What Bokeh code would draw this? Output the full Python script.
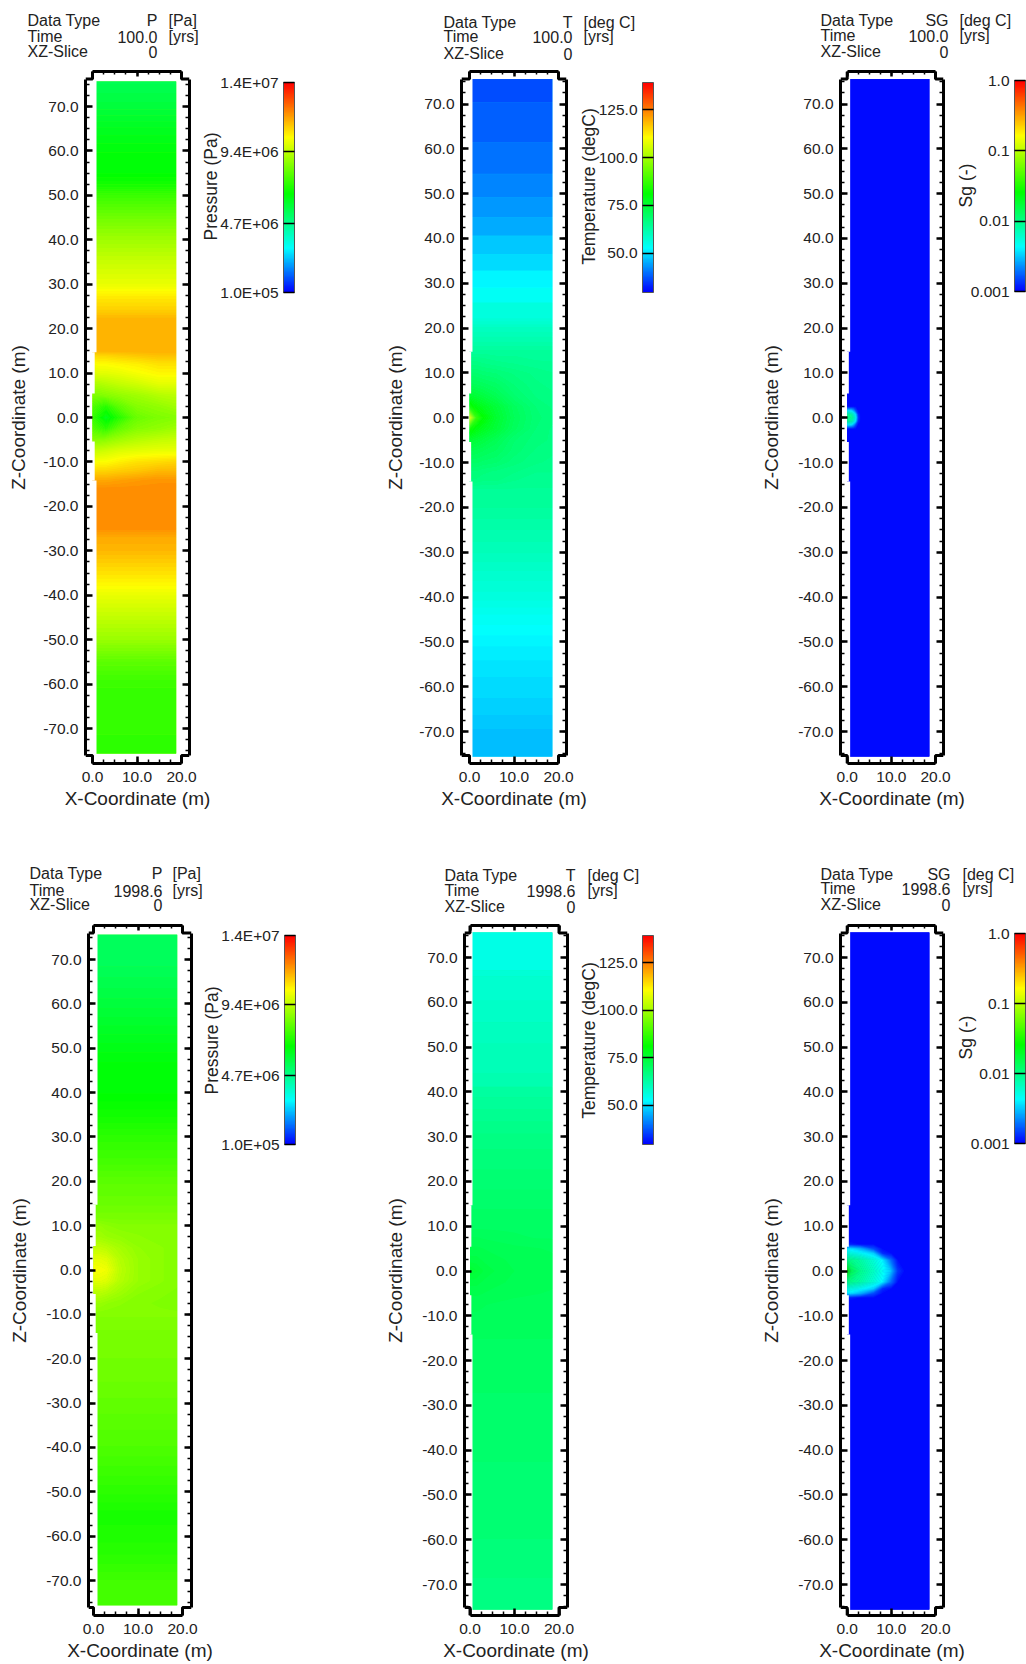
import math
import numpy as np
from bokeh.core.properties import value
from bokeh.embed import file_html
from bokeh.layouts import column, row
from bokeh.models import (ColorBar, FixedTicker, LinearAxis, LinearColorMapper,
                          LogColorMapper, Range1d)
from bokeh.plotting import figure
from bokeh.resources import INLINE

# ---------- axis ticks ----------
z_major = [-70, -60, -50, -40, -30, -20, -10, 0, 10, 20, 30, 40, 50, 60, 70]
z_minor = [v * 2.5 for v in range(-30, 31)]
x_major = [0, 10, 20]
x_minor = [0, 2.5, 5, 7.5, 10, 12.5, 15, 17.5, 20]

# ---------- shared table positions near the well ----------
near_z = [14, 12, 10, 7.5, 5, 2.5, 0, -2.5, -5, -7.5, -10, -12, -14]
near_x = [0, 1.5, 3, 6, 10, 15, 19]

# ---------- pressure at 100 yr (1e6 Pa) ----------
p100_far_z = [75.6, 70, 65, 60, 55, 52, 50, 45, 40, 35, 30, 27, 24, 22, 18, 15,
              -16, -22, -25, -27, -30, -35, -38, -40, -45, -50, -55, -60, -65, -70, -75.6]
p100_far = [5.5, 5.8, 6.2, 6.5, 6.6, 7.0, 7.5, 8.3, 9.0, 9.6, 10.1, 10.7, 11.1, 11.5, 11.5, 11.5,
            12.0, 12.0, 12.0, 11.6, 11.4, 10.8, 10.4, 10.1, 9.5, 8.9, 8.0, 7.5, 7.4, 7.4, 7.3]
p100_near = [
    [10.9, 11.0, 11.0, 11.1, 11.2, 11.3, 11.3],
    [10.3, 10.4, 10.4, 10.5, 10.6, 10.8, 10.8],
    [9.9, 10.0, 10.0, 10.1, 10.3, 10.5, 10.5],
    [9.2, 9.2, 9.3, 9.5, 9.7, 10.0, 10.0],
    [8.5, 8.5, 8.6, 8.8, 9.0, 9.3, 9.4],
    [7.8, 7.5, 7.2, 8.0, 8.6, 8.8, 9.0],
    [7.4, 6.9, 6.2, 7.2, 8.2, 8.5, 8.6],
    [7.9, 7.6, 7.3, 8.1, 8.6, 8.8, 9.0],
    [8.6, 8.6, 8.7, 9.0, 9.3, 9.5, 9.6],
    [9.6, 9.6, 9.7, 9.9, 10.0, 10.1, 10.1],
    [10.3, 10.4, 10.4, 10.6, 10.8, 10.9, 11.0],
    [10.9, 11.0, 11.0, 11.1, 11.2, 11.4, 11.4],
    [11.6, 11.6, 11.6, 11.7, 11.8, 11.9, 11.9],
]

# ---------- temperature at 100 yr (deg C) ----------
t100_far_z = [75.6, 70.5, 70.3, 61.6, 61.4, 54.5, 54.3, 49.3, 49.1, 44.8, 44.6, 40.7, 40.5, 36.6,
              36.4, 32.9, 32.7, 29.1, 28.9, 25.8, 25.6, 22.5, 20, 17, 15,
              -16, -20, -25, -30, -35, -40, -44, -48, -52, -58, -65, -70, -75.6]
t100_far = [36.3, 36.3, 38.1, 38.1, 40, 40, 41.8, 41.8, 43.6, 43.6, 45.4, 45.4, 47.6, 47.6,
            49.9, 49.9, 52.2, 52.2, 53.7, 53.7, 56.4, 56.4, 59.7, 62, 63.8,
            64.5, 63.8, 62, 60.4, 58.2, 56.4, 54.2, 52.7, 51.3, 49.9, 48.6, 47.2, 46.7]
t100_near = [
    [65, 65, 65, 64.5, 64.5, 64, 64],
    [67, 67, 66.5, 66, 65.5, 65, 64.8],
    [69, 69, 68.5, 68, 67, 66, 65.5],
    [72, 71.5, 71, 70, 68, 66.5, 66],
    [76, 75, 74, 72, 69, 67, 66.5],
    [84, 80, 78, 75, 71, 68, 67],
    [111, 88, 81.7, 76, 71.6, 68.3, 67.5],
    [84, 80, 78, 75, 71, 68, 67],
    [76, 75, 74, 72, 69, 67.5, 67],
    [72.5, 72, 71.5, 70.5, 68.5, 67, 66.5],
    [70, 70, 69.5, 69, 67.5, 66.5, 66],
    [68, 68, 67.5, 67, 66.5, 65.5, 65.5],
    [67, 67, 66.5, 66.5, 65.5, 65, 65],
]

# ---------- gas saturation at 100 yr (-) ----------
s100_far_z = [75.6, 3, -3, -75.6]
s100_far = [0.0011, 0.0011, 0.0011, 0.0011]
s100_near_z = [2.5, 1.5, 0.8, 0, -0.8, -1.5, -2.5]
s100_near_x = [0, 1, 1.5, 2, 2.5, 3, 19]
s100_near = [
    [0.0011, 0.0011, 0.0011, 0.0011, 0.0011, 0.0011, 0.0011],
    [0.0050, 0.0045, 0.0030, 0.0016, 0.0011, 0.0011, 0.0011],
    [0.0095, 0.0080, 0.0060, 0.0035, 0.0013, 0.0011, 0.0011],
    [0.0105, 0.0095, 0.0075, 0.0045, 0.0015, 0.0011, 0.0011],
    [0.0095, 0.0080, 0.0060, 0.0035, 0.0013, 0.0011, 0.0011],
    [0.0050, 0.0045, 0.0030, 0.0016, 0.0011, 0.0011, 0.0011],
    [0.0011, 0.0011, 0.0011, 0.0011, 0.0011, 0.0011, 0.0011],
]

# ---------- pressure at 1998.6 yr (1e6 Pa) ----------
p1998_far_z = [75.6, 70, 60, 50, 45, 40, 35, 30, 25, 20, 15,
               -18, -22, -25, -30, -40, -50, -55, -60, -65, -70, -75.6]
p1998_far = [5.35, 5.35, 5.8, 6.35, 6.6, 6.6, 6.9, 7.3, 7.6, 8.0, 8.2,
             8.4, 8.3, 8.25, 8.1, 7.8, 7.3, 7.0, 7.1, 7.3, 7.6, 7.7]
p1998_near = [
    [8.3, 8.3, 8.3, 8.3, 8.3, 8.3, 8.3],
    [8.4, 8.4, 8.4, 8.4, 8.4, 8.4, 8.4],
    [8.8, 8.8, 8.7, 8.6, 8.6, 8.6, 8.6],
    [9.0, 9.0, 8.9, 8.8, 8.7, 8.6, 8.6],
    [9.5, 9.5, 9.4, 9.1, 8.8, 8.7, 8.6],
    [10.0, 10.0, 9.9, 9.3, 8.9, 8.7, 8.6],
    [10.4, 10.3, 10.2, 9.4, 8.9, 8.7, 8.6],
    [10.0, 10.0, 9.9, 9.3, 8.9, 8.7, 8.6],
    [9.4, 9.4, 9.3, 9.0, 8.7, 8.6, 8.55],
    [8.9, 8.9, 8.8, 8.7, 8.6, 8.55, 8.5],
    [8.6, 8.6, 8.6, 8.6, 8.6, 8.6, 8.6],
    [8.5, 8.5, 8.5, 8.5, 8.5, 8.5, 8.5],
    [8.45, 8.45, 8.45, 8.45, 8.45, 8.45, 8.45],
]

# ---------- temperature at 1998.6 yr (deg C) ----------
t1998_far_z = [75.6, 67.2, 67, 60, 50, 41.2, 41, 30, 28, 20, 15,
               -16, -20, -30, -40, -50, -60, -70, -75.6]
t1998_far = [55.3, 55.3, 57.5, 58.6, 60.4, 61.5, 63, 66.5, 67, 68.5, 69.5,
             70.5, 70.3, 69.5, 69, 68.5, 68, 67, 66.5]
t1998_near = [
    [69.7, 69.7, 69.7, 69.7, 69.7, 69.7, 69.7],
    [70, 70, 70, 70, 70, 70, 70],
    [70.3, 70.3, 70.3, 70.3, 70.3, 70.1, 70.1],
    [71.5, 71.5, 71.3, 71.1, 70.8, 70.5, 70.5],
    [72.5, 72.5, 72.3, 72, 71.7, 71.5, 71.3],
    [73.5, 73.5, 73, 72.5, 72.1, 71.7, 71.7],
    [76, 75, 74, 73, 72.3, 71.8, 71.8],
    [73.5, 73.5, 73, 72.5, 72.1, 71.7, 71.7],
    [72.5, 72.5, 72.3, 72, 71.7, 71.5, 71.3],
    [71.7, 71.7, 71.5, 71.3, 71.1, 70.9, 70.9],
    [71.3, 71.3, 71.3, 71.3, 71.3, 71.3, 71.3],
    [71, 71, 71, 71, 71, 71, 71],
    [70.7, 70.7, 70.7, 70.7, 70.7, 70.7, 70.7],
]

# ---------- gas saturation at 1998.6 yr (-) ----------
s1998_far_z = [75.6, 7, -7, -75.6]
s1998_far = [0.0011, 0.0011, 0.0011, 0.0011]
s1998_near_z = [6.5, 6, 5, 4, 2.5, 0, -2.5, -4, -5, -6, -6.5]
s1998_near_x = [0, 1, 3, 6, 8, 10, 11.5, 13, 19]
s1998_near = [
    [0.0011, 0.0011, 0.0011, 0.0011, 0.0011, 0.0011, 0.0011, 0.0011, 0.0011],
    [0.0012, 0.0012, 0.0011, 0.0011, 0.0011, 0.0011, 0.0011, 0.0011, 0.0011],
    [0.0040, 0.0038, 0.0030, 0.0016, 0.0011, 0.0011, 0.0011, 0.0011, 0.0011],
    [0.0058, 0.0055, 0.0047, 0.0034, 0.0013, 0.0011, 0.0011, 0.0011, 0.0011],
    [0.0105, 0.0098, 0.0083, 0.0058, 0.0042, 0.0019, 0.0011, 0.0011, 0.0011],
    [0.0316, 0.0147, 0.0098, 0.0067, 0.0048, 0.0031, 0.0014, 0.0011, 0.0011],
    [0.0105, 0.0098, 0.0083, 0.0058, 0.0042, 0.0019, 0.0011, 0.0011, 0.0011],
    [0.0058, 0.0055, 0.0047, 0.0034, 0.0013, 0.0011, 0.0011, 0.0011, 0.0011],
    [0.0040, 0.0038, 0.0030, 0.0016, 0.0011, 0.0011, 0.0011, 0.0011, 0.0011],
    [0.0012, 0.0012, 0.0011, 0.0011, 0.0011, 0.0011, 0.0011, 0.0011, 0.0011],
    [0.0011, 0.0011, 0.0011, 0.0011, 0.0011, 0.0011, 0.0011, 0.0011, 0.0011],
]

# ---------- colour-bar scales and their tick labels ----------
p_cb_low, p_cb_high = 1.0e5, 1.4e7
p_cb_ticks = [1.0e5, 4.7e6, 9.4e6, 1.4e7]
p_cb_labels = ["1.0E+05", "4.7E+06", "9.4E+06", "1.4E+07"]
t_cb_low, t_cb_high = 29.3, 139.4
t_cb_ticks = [50, 75, 100, 125]
t_cb_labels = ["50.0", "75.0", "100.0", "125.0"]
s_cb_low, s_cb_high = 0.001, 1.0
s_cb_ticks = [0.001, 0.01, 0.1, 1.0]
s_cb_labels = ["0.001", "0.01", "0.1", "1.0"]

FONT = "Liberation Sans"
TXT = "#222222"
T_STOPS = [0.0, 0.21, 0.47, 0.74, 1.0]
R_STOPS = [0, 0, 0, 255, 255]
G_STOPS = [0, 255, 255, 255, 0]
B_STOPS = [255, 255, 0, 0, 0]
ramp = np.linspace(0, 1, 256)
palette = ["#%02x%02x%02x" % (int(np.interp(t, T_STOPS, R_STOPS)),
                              int(np.interp(t, T_STOPS, G_STOPS)),
                              int(np.interp(t, T_STOPS, B_STOPS))) for t in ramp]
band_colors = palette[::2]


def build_table(far_z, far, nz, nx, near):
    rows = {z: [v] * len(nx) for z, v in zip(far_z, far)}
    rows.update({z: list(r) for z, r in zip(nz, near)})
    zs = sorted(rows)
    return np.array(zs, float), np.array([rows[z] for z in zs], float)


def panel(width, height, geom, texts, table, nx, kind, bar, ylab, ylab_x, ylab_y):
    fx, fig_w = width
    fy, fig_h = height
    L, R, T, B = geom["L"], geom["R"], geom["T"], geom["B"]
    x0, x20, z70, zm70 = geom["x0"], geom["x20"], geom["z70"], geom["zm70"]
    sx = (x20 - x0) / 20.0
    sz = (zm70 - z70) / 140.0
    zero = (z70 + zm70) / 2.0
    X = lambda px: (px - x0) / sx
    Z = lambda py: (zero - py) / sz

    zs, field = table
    xs = np.array(nx, float)
    xs[-1] = geom["fill_r"]
    if kind == "s":
        field = np.log10(field)
        lo, hi = -3.0, 0.0
    elif kind == "p":
        field = field * 1e6
        lo, hi = p_cb_low, p_cb_high
    else:
        lo, hi = t_cb_low, t_cb_high
    levels = np.linspace(lo, hi, 129)
    mean_color = palette[int(255 * (np.median(field) - lo) / (hi - lo))]

    p = figure(width=fig_w, height=fig_h, output_backend="svg", toolbar_location=None,
               x_range=Range1d(X(L), X(R)), y_range=Range1d(Z(B), Z(T)),
               x_axis_type=None, y_axis_type=None,
               min_border_left=L - fx, min_border_right=fx + fig_w - R,
               min_border_top=T - fy, min_border_bottom=fy + fig_h - B,
               outline_line_color=None, background_fill_color="white", border_fill_color="white")
    p.grid.visible = False

    # field: a base of the median colour, then the bands twice so that their seams close up
    fl = geom["fill_l"]
    fr = geom["fill_r"]
    p.quad(left=[0], right=[fr], top=[75.6], bottom=[-75.6], fill_color=mean_color, line_color=None)
    p.contour(x=xs, y=zs, z=field, levels=levels, fill_color=band_colors, line_color=None)
    p.contour(x=xs, y=zs, z=field, levels=levels, fill_color=band_colors, line_color=None)

    # stepped left edge of the model
    xl, xr, zt_, zb_ = X(L), X(R), Z(T), Z(B)
    p.quad(left=[xl] * 4, right=[fl, fl * 0.55, fl * 0.55, fl],
           top=[76.0, 14.7, -5.4, -14.2], bottom=[14.7, 5.4, -14.2, -76.0],
           fill_color="white", line_color=None)

    # notched box
    nt, nb = Z(T + 7.5), Z(B - 8)
    for a, b in [(xl, 0), (xr, 20)]:
        p.line([a, b, b], [nt, nt, zt_], line_color="black", line_width=3)
        p.line([a, b, b], [nb, nb, zb_], line_color="black", line_width=3)

    base = dict(axis_line_color="black", axis_line_width=3, major_tick_line_color="black",
                major_tick_line_width=2.5, minor_tick_line_color="black", minor_tick_line_width=1.5,
                major_tick_out=0, minor_tick_out=0, major_label_text_font=FONT,
                major_label_text_font_size="15.5px", major_label_text_color=TXT,
                axis_label_text_font=FONT, axis_label_text_font_size="19px",
                axis_label_text_font_style="normal", axis_label_text_color=TXT)
    zt = FixedTicker(ticks=z_major, minor_ticks=z_minor)
    xt = FixedTicker(ticks=x_major, minor_ticks=x_minor)
    z_fmt = {v: f"{float(v):.1f}" for v in z_major}
    x_fmt = {v: f"{float(v):.1f}" for v in x_major}
    left = LinearAxis(ticker=zt, bounds=(nb, nt), major_tick_in=7, minor_tick_in=4,
                      major_label_overrides=z_fmt, major_label_standoff=7,
                      axis_label="Z-Coordinate (m)", axis_label_standoff=geom["zl"], **base)
    right = LinearAxis(ticker=zt, bounds=(nb, nt), major_tick_in=7, minor_tick_in=4,
                       major_label_overrides={v: "" for v in z_major}, **base)
    bottom = LinearAxis(ticker=xt, bounds=(0, 20), major_tick_in=7, minor_tick_in=4,
                        major_label_overrides=x_fmt, major_label_standoff=8,
                        axis_label="X-Coordinate (m)", axis_label_standoff=3, **base)
    top = LinearAxis(ticker=xt, bounds=(0, 20), major_tick_in=5, minor_tick_in=3,
                     major_label_overrides={v: "" for v in x_major}, **base)
    p.add_layout(left, "left")
    p.add_layout(right, "right")
    p.add_layout(bottom, "below")
    p.add_layout(top, "above")

    # free texts: overlay-level glyphs are not clipped to the frame
    def label(px, py, txt, align, size, angle=0.0):
        p.text(x=[X(px)], y=[Z(py)], text=[txt], text_font=value(FONT), text_font_size=value(size),
               text_color=TXT, text_align=align, text_baseline="middle", angle=angle, level="overlay")

    for (tx, ty, txt, align) in texts:
        label(tx, ty, txt, align, "16px")

    # colour bar
    bl, br, bt, bb = bar
    if kind == "s":
        mapper = LogColorMapper(palette=palette, low=s_cb_low, high=s_cb_high)
        ticks, labs = s_cb_ticks, s_cb_labels
        pos = lambda v: (math.log10(v) + 3) / 3
    elif kind == "p":
        mapper = LinearColorMapper(palette=palette, low=p_cb_low, high=p_cb_high)
        ticks, labs = p_cb_ticks, p_cb_labels
        pos = lambda v: (v - p_cb_low) / (p_cb_high - p_cb_low)
    else:
        mapper = LinearColorMapper(palette=palette, low=t_cb_low, high=t_cb_high)
        ticks, labs = t_cb_ticks, t_cb_labels
        pos = lambda v: (v - t_cb_low) / (t_cb_high - t_cb_low)
    cb = ColorBar(color_mapper=mapper, location=(bl - L, B - bb), width=br - bl, height=bb - bt,
                  padding=0, margin=0, ticker=FixedTicker(ticks=ticks),
                  major_label_overrides={v: "" for v in ticks},
                  major_tick_in=br - bl, major_tick_out=0, major_tick_line_color="black",
                  major_tick_line_width=1.5, minor_tick_line_color=None,
                  bar_line_color="#555555", bar_line_width=1)
    p.add_layout(cb, "center")
    for v, lab in zip(ticks, labs):
        label(bl - 5, bb - pos(v) * (bb - bt), lab, "right", "15.5px")
    label(ylab_x, ylab_y, ylab, "center", "17.5px", angle=math.pi / 2)
    return p


def head(lx, vr, ur, ys, dtype, dunit, time):
    return [(lx, ys[0], "Data Type", "left"), (lx, ys[1], "Time", "left"), (lx, ys[2], "XZ-Slice", "left"),
            (vr, ys[0], dtype, "right"), (vr, ys[1], time, "right"), (vr, ys[2], "0", "right"),
            (ur, ys[0], dunit, "left"), (ur, ys[1], "[yrs]", "left")]


H1 = (0, 812)
H2 = (812, 852)

gA = dict(L=85, R=189, T=71, B=763, x0=92, x20=181, z70=106, zm70=728, fill_l=0.9, fill_r=18.8, zl=11)
gB = dict(L=461, R=566, T=71, B=763, x0=469, x20=558, z70=103.5, zm70=731, fill_l=0.67, fill_r=18.6, zl=10)
gC = dict(L=840, R=943, T=71, B=763, x0=846.7, x20=935, z70=103.5, zm70=731, fill_l=0.67, fill_r=18.6, zl=13)
gD = dict(L=88, R=191, T=925, B=1615, x0=93, x20=182, z70=959, zm70=1580, fill_l=0.9, fill_r=18.8, zl=13)
gE = dict(L=464, R=567, T=925, B=1615, x0=469.5, x20=558.5, z70=957, zm70=1584, fill_l=0.56, fill_r=18.5, zl=13)
gF = dict(L=840, R=943, T=925, B=1615, x0=846.7, x20=935, z70=957, zm70=1584, fill_l=0.67, fill_r=18.6, zl=13)

pA = panel((0, 296), H1, gA, head(27, 157, 168, (20, 36, 51), "P", "[Pa]", "100.0"),
           build_table(p100_far_z, p100_far, near_z, near_x, p100_near), near_x, "p",
           (283, 294, 82, 292), "Pressure (Pa)", 210, 186)
pB = panel((296, 358), H1, gB, head(443, 572, 583, (22, 36, 53), "T", "[deg C]", "100.0"),
           build_table(t100_far_z, t100_far, near_z, near_x, t100_near), near_x, "t",
           (642, 653, 82, 292), "Temperature (degC)", 588, 186)
pC = panel((654, 372), H1, gC, head(820, 948, 959, (20, 35, 51), "SG", "[deg C]", "100.0"),
           build_table(s100_far_z, s100_far, s100_near_z, s100_near_x, s100_near), s100_near_x, "s",
           (1014, 1025, 80, 291), "Sg (-)", 965, 185)
pD = panel((0, 297), H2, gD, head(29, 162, 172, (873, 890, 904), "P", "[Pa]", "1998.6"),
           build_table(p1998_far_z, p1998_far, near_z, near_x, p1998_near), near_x, "p",
           (284, 295, 935, 1144), "Pressure (Pa)", 211, 1040)
pE = panel((297, 357), H2, gE, head(444, 575, 587, (875, 890, 906), "T", "[deg C]", "1998.6"),
           build_table(t1998_far_z, t1998_far, near_z, near_x, t1998_near), near_x, "t",
           (642, 653, 935, 1144), "Temperature (degC)", 588, 1040)
pF = panel((654, 372), H2, gF, head(820, 950, 962, (874, 888, 904), "SG", "[deg C]", "1998.6"),
           build_table(s1998_far_z, s1998_far, s1998_near_z, s1998_near_x, s1998_near), s1998_near_x, "s",
           (1014, 1025, 933, 1143), "Sg (-)", 965, 1037)

page = column(row(pA, pB, pC), row(pD, pE, pF))
open("out.html", "w").write(file_html(page, INLINE))
